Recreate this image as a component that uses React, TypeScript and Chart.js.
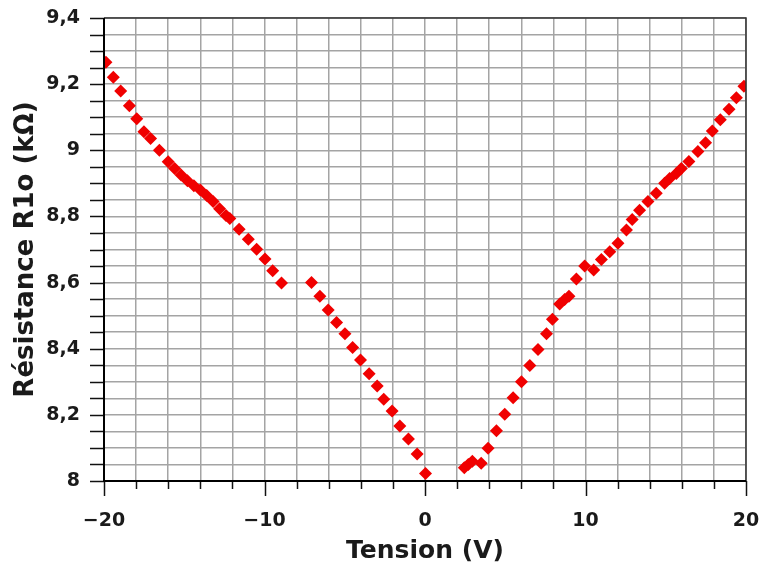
import { useEffect, useRef } from 'react';
import { Chart, registerables } from 'chart.js';

Chart.register(...registerables);

// Tension (V)
const tensionV: number[] = [
  -19.88, -19.42, -18.96, -18.42, -17.96, -17.51, -17.1, -16.55, -16.0, -15.6,
  -15.2, -14.8, -14.4, -14.0, -13.6, -13.2, -12.8, -12.4, -12.16, -11.58,
  -11.01, -10.49, -9.97, -9.49, -8.94,
  -7.07, -6.55, -6.03, -5.51, -4.99, -4.51, -4.02, -3.48, -2.98, -2.57,
  -2.05, -1.57, -1.03, -0.49, 0.03,
  2.45, 2.7, 2.95, 3.5, 3.93, 4.45, 4.97, 5.49, 6.01, 6.53,
  7.04, 7.57, 7.94, 8.39, 8.7, 8.97, 9.43, 9.95, 10.51, 10.99,
  11.51, 12.02, 12.55, 12.91, 13.37, 13.89, 14.41, 14.93, 15.24, 15.66,
  15.97, 16.44, 17.0, 17.48, 17.9, 18.4, 18.94, 19.4, 19.87,
];

// Résistance R1o (kΩ)
const resistanceK: number[] = [
  9.266, 9.221, 9.179, 9.135, 9.095, 9.056, 9.036, 9.0, 8.965, 8.945,
  8.925, 8.908, 8.893, 8.88, 8.863, 8.845, 8.823, 8.803, 8.794, 8.761,
  8.731, 8.701, 8.671, 8.636, 8.599,
  8.6, 8.559, 8.517, 8.479, 8.445, 8.404, 8.366, 8.324, 8.287, 8.247,
  8.212, 8.166, 8.127, 8.082, 8.023,
  8.04, 8.05, 8.06, 8.054, 8.099, 8.152, 8.202, 8.252, 8.3, 8.349,
  8.398, 8.445, 8.489, 8.535, 8.549, 8.559, 8.611, 8.65, 8.638, 8.67,
  8.693, 8.719, 8.759, 8.791, 8.819, 8.845, 8.87, 8.9, 8.915, 8.93,
  8.945, 8.966, 8.996, 9.023, 9.058, 9.092, 9.124, 9.159, 9.194,
];

const xMajorTicks: number[] = [-20, -10, 0, 10, 20];
const yMajorTicks: number[] = [8, 8.2, 8.4, 8.6, 8.8, 9, 9.2, 9.4];

const FONT = "'DejaVu Sans', Verdana, sans-serif";

const isMajor = (v: number, list: number[]) => list.some((m) => Math.abs(m - v) < 1e-6);

const framePlugin = {
  id: 'frameTicks',
  afterDatasetsDraw(chart: any) {
    const { ctx, chartArea: a, scales } = chart;
    const xs = scales.x;
    const ys = scales.y;
    ctx.save();
    ctx.strokeStyle = '#111';
    ctx.lineWidth = 1.5;
    xs.ticks.forEach((t: any) => {
      const px = Math.round(xs.getPixelForValue(t.value)) + 0.5;
      const len = isMajor(t.value, xMajorTicks) ? 15 : 8;
      ctx.beginPath();
      ctx.moveTo(px, a.bottom);
      ctx.lineTo(px, a.bottom + len);
      ctx.stroke();
    });
    ys.ticks.forEach((t: any) => {
      const py = Math.round(ys.getPixelForValue(t.value)) + 0.5;
      ctx.beginPath();
      ctx.moveTo(a.left - 14, py);
      ctx.lineTo(a.left, py);
      ctx.stroke();
    });
    // top & right frame
    ctx.strokeStyle = '#333';
    ctx.lineWidth = 1.5;
    ctx.beginPath();
    ctx.moveTo(a.left, a.top);
    ctx.lineTo(a.right, a.top);
    ctx.lineTo(a.right, a.bottom);
    ctx.stroke();
    // left & bottom axes
    ctx.strokeStyle = '#000';
    ctx.lineWidth = 2;
    ctx.beginPath();
    ctx.moveTo(a.left, a.top);
    ctx.lineTo(a.left, a.bottom);
    ctx.lineTo(a.right, a.bottom);
    ctx.stroke();
    ctx.restore();
  },
};

export default function App() {
  const ref = useRef<HTMLCanvasElement>(null);
  useEffect(() => {
    const points = tensionV.map((x, i) => ({ x, y: resistanceK[i] }));
    const chart = new Chart(ref.current!, {
      type: 'scatter',
      data: {
        datasets: [
          {
            label: 'R1o',
            data: points,
            pointStyle: 'rectRot',
            pointRadius: 6.5,
            pointHoverRadius: 6.5,
            backgroundColor: 'rgb(240,0,0)',
            borderColor: 'rgb(240,0,0)',
            borderWidth: 0,
          },
        ],
      },
      options: {
        animation: false,
        responsive: false,
        devicePixelRatio: 1,
        layout: { padding: { top: 18, right: 13, left: 0, bottom: 0 } },
        plugins: { legend: { display: false }, tooltip: { enabled: false } },
        scales: {
          x: {
            type: 'linear',
            min: -20,
            max: 20,
            afterFit: (s: any) => {
              s.height = 86;
              s.paddingLeft = 0;
              s.paddingRight = 0;
            },
            ticks: {
              stepSize: 2,
              autoSkip: false,
              maxRotation: 0,
              padding: 29,
              color: '#1a1a1a',
              font: { family: FONT, size: 19, weight: 'bold' },
              callback: (v: any) => {
                const n = Number(v);
                if (!isMajor(n, xMajorTicks)) return '';
                return n < 0 ? '\u2212' + Math.abs(n) : String(n);
              },
            },
            grid: { color: '#a4a4a4', lineWidth: 1.5, drawTicks: false },
            border: { display: false },
            title: {
              display: true,
              text: 'Tension (V)',
              color: '#1a1a1a',
              font: { family: FONT, size: 25, weight: 'bold' },
              padding: { top: 0, bottom: 1 },
            },
          },
          y: {
            type: 'linear',
            min: 8,
            max: 9.4,
            afterFit: (s: any) => {
              s.width = 104;
              s.paddingTop = 0;
              s.paddingBottom = 0;
            },
            ticks: {
              stepSize: 0.05,
              autoSkip: false,
              padding: 24,
              color: '#1a1a1a',
              font: { family: FONT, size: 19, weight: 'bold' },
              callback: (v: any) => {
                const n = Number(v);
                if (!isMajor(n, yMajorTicks)) return '';
                return String(Math.round(n * 10) / 10).replace('.', ',');
              },
            },
            grid: { color: '#a4a4a4', lineWidth: 1.5, drawTicks: false },
            border: { display: false },
            title: {
              display: true,
              text: 'Résistance R1o (kΩ)',
              color: '#1a1a1a',
              font: { family: FONT, size: 26, weight: 'bold' },
              padding: { top: 11, bottom: 0 },
            },
          },
        },
      },
      plugins: [framePlugin],
    });
    return () => chart.destroy();
  }, []);
  return (
    <div style={{ position: 'fixed', left: 0, top: 0, width: 759, height: 567, background: '#fff' }}>
      <canvas ref={ref} width={759} height={567} style={{ width: 759, height: 567, display: 'block' }} />
    </div>
  );
}
